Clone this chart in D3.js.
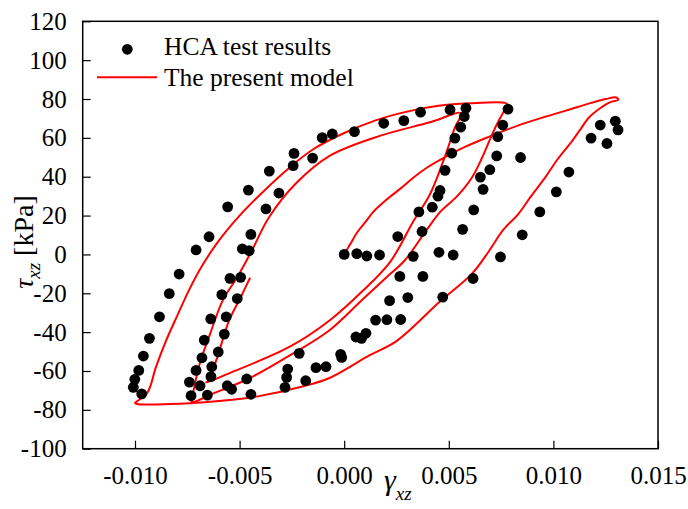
<!DOCTYPE html>
<html>
<head>
<meta charset="utf-8">
<script src="https://cdn.jsdelivr.net/npm/d3@7"></script>
<style>
  html, body { margin: 0; padding: 0; background: #fff; }
  svg { display: block; }
  text { font-family: "Liberation Serif", "Times New Roman", serif; fill: #000; }
</style>
</head>
<body>
<svg id="chart" width="688" height="509"></svg>
<script>
// Axis ticks
const xTicks = [-0.010, -0.005, 0.000, 0.005, 0.010, 0.015];
const yTicks = [-100, -80, -60, -40, -20, 0, 20, 40, 60, 80, 100, 120];

// HCA test results: shear strain and shear stress (kPa)
const testGamma = [
  -0.01001, -0.01008, -0.00968, -0.00982, -0.00960, -0.00931, -0.00883, -0.00836, -0.00789, -0.00708,
  -0.00646, -0.00557, -0.00458, -0.00358, -0.00240, -0.00105, -0.00057, 0.00049, 0.00189, 0.00285,
  0.00365, 0.00506, 0.00582, 0.00783,
  -0.00151, -0.00244, -0.00312, -0.00374, -0.00446, -0.00487, -0.00454, -0.00546, -0.00495, -0.00585,
  -0.00511, -0.00638, -0.00564, -0.00669, -0.00573, -0.00680, -0.00602, -0.00708, -0.00633, -0.00637,
  -0.00740, -0.00689, -0.00732, -0.00654, -0.00559, -0.00538, -0.00466, -0.00446,
  -0.00270, -0.00275, -0.00283, -0.00215, -0.00184, -0.00135, -0.00087, -0.00017, -0.00012, 0.00056,
  0.00083, 0.00104, 0.00150, 0.00204, 0.00270, 0.00217, 0.00304, 0.00471, 0.00266, 0.00376,
  0.00616, 0.00330, 0.00453, 0.00521, 0.00747,
  0.00000, 0.00060, 0.00108, 0.00169,
  0.00256, 0.00372, 0.00357, 0.00421, 0.00448, 0.00458, 0.00482, 0.00514, 0.00529, 0.00557,
  0.00574, 0.00566, 0.00619, 0.00664, 0.00651, 0.00696, 0.00729, 0.00734, 0.00758, 0.00843,
  0.00851, 0.00935, 0.01014, 0.01074, 0.01180, 0.01224, 0.01256, 0.01296, 0.01309
];
const testTau = [
  -64.3, -68.4, -71.8, -59.7, -52.3, -43.2, -32.1, -20.2, -10.1, 2.3,
  9.1, 24.5, 33.1, 42.9, 52.0, 60.1, 62.0, 63.2, 67.5, 68.9,
  73.2, 74.5, 75.3, 74.8,
  49.6, 45.7, 31.6, 23.4, 10.3, 2.9, 1.9, -12.3, -11.8, -20.7,
  -22.7, -33.2, -32.1, -44.1, -41.0, -53.2, -50.2, -59.7, -57.8, -62.9,
  -65.7, -67.6, -72.7, -72.4, -67.6, -69.4, -64.1, -72.0,
  -59.0, -63.3, -68.4, -50.9, -65.0, -58.3, -57.8, -51.4, -53.0, -42.5,
  -43.2, -40.6, -33.8, -33.6, -33.5, -23.8, -22.2, -22.0, -11.3, -11.3,
  -12.4, -1.0, 1.1, -0.3, -1.3,
  0.0, 0.4, -0.8, -0.3,
  9.2, 11.8, 21.9, 24.3, 30.0, 32.9, 43.3, 52.1, 59.9, 65.5,
  71.0, 12.9, 22.9, 33.5, 39.8, 43.6, 50.7, 60.6, 66.6, 49.9,
  10.1, 21.9, 32.2, 42.4, 59.9, 66.6, 57.1, 68.6, 64.1
];

// The present model: successive loading branches [gamma, tau]
const virginBranch = [
  [0, 0], [0.0003, 5.5], [0.0006, 11], [0.0010, 16.5], [0.0014, 22], [0.0020, 28], [0.0027, 34],
  [0.0033, 39.5], [0.0040, 45], [0.0048, 50], [0.0058, 55.5], [0.0069, 60.5], [0.0083, 66.3],
  [0.0095, 70.5], [0.0106, 74], [0.0118, 78], [0.0125, 80], [0.0130, 80.8], [0.0131, 79.6]
];
const unloadBranch1 = [
  [0.0127, 78.3], [0.0122, 75], [0.0117, 70.5], [0.0113, 64.5], [0.0109, 58.5], [0.0102, 49],
  [0.0096, 39.5], [0.0089, 29.5], [0.0083, 20.5], [0.0076, 12.6], [0.0069, 1.4], [0.0061, -10],
  [0.0046, -24], [0.0025, -44.6], [0.0012, -52], [-0.0007, -63.6], [-0.0020, -68], [-0.0042, -73.2],
  [-0.0060, -75.5], [-0.0074, -76.6], [-0.0090, -77.2], [-0.0099, -77], [-0.0100, -76.4], [-0.0099, -75.6]
];
const reloadBranch1 = [
  [-0.0094, -71], [-0.0090, -58], [-0.0085, -44], [-0.0080, -32], [-0.0074, -18], [-0.0068, -6],
  [-0.0060, 7], [-0.0050, 20], [-0.0040, 31], [-0.0028, 43], [-0.0015, 54], [0.0000, 62.5],
  [0.0015, 69], [0.0030, 73.5], [0.0045, 76.5], [0.0060, 77.8], [0.0077, 78]
];
const unloadBranch2 = [
  [0.0078, 77.2], [0.0076, 73], [0.0073, 67], [0.0070, 60], [0.0066, 50], [0.0061, 39.5],
  [0.0054, 30], [0.0046, 22], [0.0039, 12], [0.0029, -3], [0.0020, -12], [0.0008, -24],
  [-0.0007, -39], [-0.0026, -52], [-0.0045, -63.6], [-0.0062, -71.3], [-0.0073, -75.8]
];
const reloadBranch2 = [
  [-0.0072, -70], [-0.0069, -56], [-0.0064, -40.6], [-0.0058, -23.5], [-0.0051, -11.5],
  [-0.0044, 2.3], [-0.0036, 19], [-0.0023, 36.6], [-0.0007, 50.7], [0.0017, 61], [0.0041, 68],
  [0.0056, 72.7]
];
const unloadBranch3 = [
  [0.0053, 65.5], [0.0048, 50], [0.0041, 31], [0.0033, 17], [0.0022, -3.8], [0.0009, -18.6],
  [-0.0007, -34], [-0.0026, -47.5], [-0.0055, -61.2], [-0.0066, -66]
];
const reloadBranch3 = [
  [-0.0065, -65], [-0.0061, -54], [-0.0055, -34], [-0.0049, -21], [-0.0045, -12]
];

const modelPath = [].concat(virginBranch, unloadBranch1, reloadBranch1, unloadBranch2,
  reloadBranch2, unloadBranch3, reloadBranch3);

const svg = d3.select("#chart");
const frame = { left: 82.7, right: 658, top: 21.3, bottom: 448.7 };

const x = d3.scaleLinear().domain([-0.0125, 0.015]).range([frame.left, frame.right]);
const y = d3.scaleLinear().domain([-100, 120]).range([frame.bottom, frame.top]);

// Frame
svg.append("rect")
  .attr("x", frame.left).attr("y", frame.top)
  .attr("width", frame.right - frame.left).attr("height", frame.bottom - frame.top)
  .attr("fill", "none").attr("stroke", "#000").attr("stroke-width", 1.5);

// Axes with inward ticks
const xAxis = svg.append("g").attr("transform", `translate(0,${frame.bottom})`)
  .call(d3.axisBottom(x).tickValues(xTicks)
    .tickSizeInner(-8).tickSizeOuter(0).tickPadding(18));
const yAxis = svg.append("g").attr("transform", `translate(${frame.left},0)`)
  .call(d3.axisLeft(y).tickValues(yTicks)
    .tickSizeInner(-8).tickSizeOuter(0).tickPadding(16));

[xAxis, yAxis].forEach(g => {
  g.select(".domain").remove();
  g.selectAll(".tick line").attr("stroke", "#000").attr("stroke-width", 1.2);
  g.selectAll(".tick text")
    .style("font-family", "'Liberation Serif', 'Times New Roman', serif")
    .style("font-size", "25px").attr("fill", "#000");
});
xAxis.selectAll(".tick text").text(d => d3.format(".3f")(d).replace("\u2212", "-"));
yAxis.selectAll(".tick text").text(d => String(d));

// Model curve
const line = d3.line()
  .x(d => x(d[0])).y(d => y(d[1]))
  .curve(d3.curveCatmullRom.alpha(0.5));
svg.append("path")
  .datum(modelPath)
  .attr("d", line)
  .attr("fill", "none").attr("stroke", "#ff0000").attr("stroke-width", 2)
  .attr("stroke-linejoin", "round");

// Test points
svg.append("g").selectAll("circle")
  .data(testGamma.map((g, i) => [g, testTau[i]]))
  .join("circle")
  .attr("cx", d => x(d[0])).attr("cy", d => y(d[1]))
  .attr("r", 5.4).attr("fill", "#000");

// Legend
const legend = svg.append("g");
legend.append("circle").attr("cx", 127.3).attr("cy", 49.3).attr("r", 5.4).attr("fill", "#000");
legend.append("text").attr("x", 164).attr("y", 55).style("font-size", "25.5px").text("HCA test results");
legend.append("line").attr("x1", 97).attr("x2", 157).attr("y1", 77.3).attr("y2", 77.3)
  .attr("stroke", "#ff0000").attr("stroke-width", 2);
legend.append("text").attr("x", 164).attr("y", 86).style("font-size", "25.5px").text("The present model");

// Axis titles
const xt = svg.append("text").attr("x", 384).attr("y", 490).attr("text-anchor", "start")
  .style("font-size", "30px");
xt.append("tspan").style("font-style", "italic").text("γ");
xt.append("tspan").style("font-style", "italic").style("font-size", "19px").attr("dy", 10).text("xz");

const yt = svg.append("text")
  .attr("transform", "translate(33,242) rotate(-90)")
  .attr("text-anchor", "middle").style("font-size", "28px");
yt.append("tspan").style("font-style", "italic").text("τ");
yt.append("tspan").style("font-style", "italic").style("font-size", "19px").attr("dy", 7).text("xz");
yt.append("tspan").attr("dy", -7).text(" [kPa]");
</script>
</body>
</html>
